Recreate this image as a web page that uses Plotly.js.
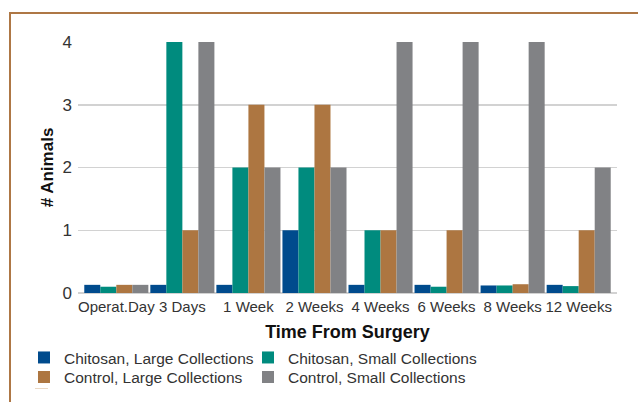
<!DOCTYPE html>
<html>
<head>
<meta charset="utf-8">
<script src="https://cdn.plot.ly/plotly-3.0.1.min.js"></script>
<style>
  html, body { margin: 0; padding: 0; background: #fff; overflow: hidden; }
  #wrap { position: relative; width: 638px; height: 402px; }
  #chart { position: absolute; left: 0; top: 0; width: 638px; height: 402px; }
  #frame { position: absolute; left: 9px; top: 12px; width: 700px; height: 500px;
           border-top: 2px solid #ae7745; border-left: 2px solid #ae7745; pointer-events: none; }
  #mark { position: absolute; left: 35px; top: 388px; width: 13px; height: 1px; background: #ead8c4; }
</style>
</head>
<body>
<div id="wrap">
  <div id="chart"></div>
  <div id="frame"></div>
  <div id="mark"></div>
</div>
<script>
const categories = ["Operat.Day", "3 Days", "1 Week", "2 Weeks", "4 Weeks", "6 Weeks", "8 Weeks", "12 Weeks"];
const chitosanLarge = [0.13, 0.13, 0.13, 1, 0.13, 0.13, 0.12, 0.13];
const chitosanSmall = [0.1, 4, 2, 2, 1, 0.1, 0.12, 0.11];
const controlLarge  = [0.13, 1, 3, 3, 1, 1, 0.14, 1];
const controlSmall  = [0.13, 4, 2, 2, 4, 4, 4, 2];
const seriesNames = ["Chitosan, Large Collections", "Chitosan, Small Collections", "Control, Large Collections", "Control, Small Collections"];
const seriesColors = ["#004b8d", "#008b7e", "#ad7641", "#818285"];
const yTicks = [0, 1, 2, 3, 4];

const seriesValues = [chitosanLarge, chitosanSmall, controlLarge, controlSmall];
const FONT = "'Liberation Sans', Arial, sans-serif";

// one legend box per series, laid out as a 2 x 2 grid
const legendIds = ["legend", "legend2", "legend3", "legend4"];
const legendX = [-0.1002, 0.3154, -0.1002, 0.3154];
const legendY = [-0.1908, -0.1908, -0.2685, -0.2685];

const traces = seriesValues.map((vals, i) => ({
  type: 'bar',
  x: categories,
  y: vals,
  name: seriesNames[i],
  legend: legendIds[i],
  marker: { color: seriesColors[i], line: { width: 0 } },
  hoverinfo: 'x+y+name'
}));

const layout = {
  width: 638, height: 402,
  margin: { l: 78, r: 21, t: 42, b: 109, autoexpand: false },
  paper_bgcolor: 'rgba(0,0,0,0)',
  plot_bgcolor: 'rgba(0,0,0,0)',
  barmode: 'group',
  bargap: 0.03,
  bargroupgap: 0,
  font: { family: FONT, color: '#333' },
  showlegend: true,
  xaxis: {
    type: 'category',
    range: [-0.58, 7.58],
    automargin: false,
    tickangle: 0,
    showgrid: false,
    showline: false,
    zeroline: false,
    ticks: '',
    ticklabelstandoff: 3,
    tickfont: { family: FONT, size: 15, color: '#333' },
    title: { text: 'Time From Surgery', font: { family: FONT, size: 18, color: '#111', weight: 'bold' }, standoff: 11 },
    fixedrange: true
  },
  yaxis: {
    range: [0, 4],
    automargin: false,
    tickvals: yTicks,
    ticktext: yTicks.map(String),
    showgrid: true,
    gridcolor: '#d2d2d2',
    gridwidth: 1.5,
    zeroline: true,
    zerolinecolor: '#d2d2d2',
    zerolinewidth: 1.5,
    showline: false,
    ticks: '',
    ticklabelstandoff: 5,
    tickfont: { family: FONT, size: 17, color: '#333' },
    title: { text: '# Animals', font: { family: FONT, size: 17, color: '#111', weight: 'bold' }, standoff: 4 },
    fixedrange: true
  }
};

legendIds.forEach((id, i) => {
  layout[id] = {
    orientation: 'v',
    x: legendX[i], xanchor: 'left',
    y: legendY[i], yanchor: 'top',
    font: { family: FONT, size: 15.5, color: '#333' },
    tracegroupgap: 0,
    bgcolor: 'rgba(0,0,0,0)',
    borderwidth: 0,
    itemclick: false, itemdoubleclick: false
  };
});

Plotly.newPlot('chart', traces, layout, { displayModeBar: false, staticPlot: true });
</script>
</body>
</html>
